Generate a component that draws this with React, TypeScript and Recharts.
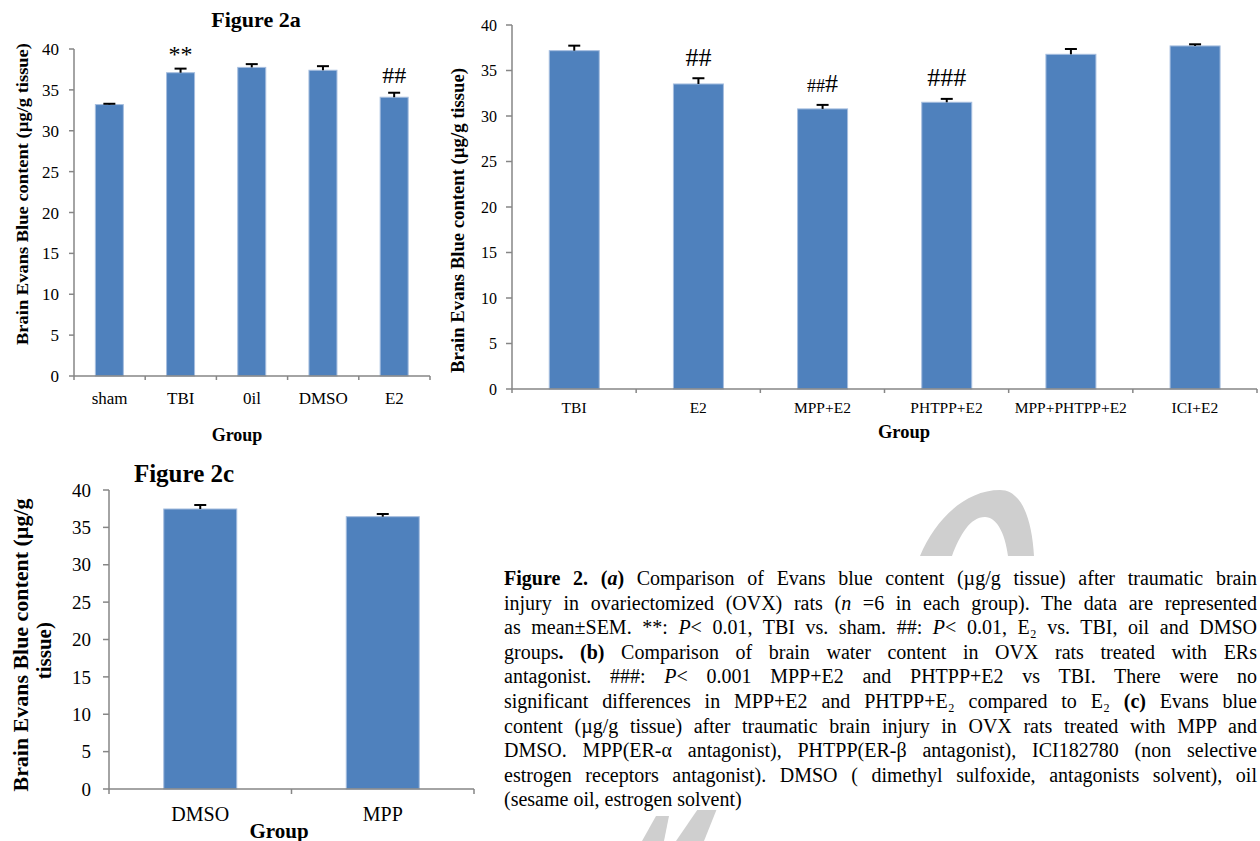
import React, { useLayoutEffect, useRef, useState } from 'react';
import { BarChart, Bar, XAxis, YAxis } from 'recharts';

// ---------- data ----------
const groupsA = ['sham', 'TBI', '0il', 'DMSO', 'E2'];
const meansA = [33.2, 37.1, 37.75, 37.4, 34.1];
const semA = [0.1, 0.5, 0.4, 0.5, 0.55];
const sigA = ['', '**', '', '', '##'];

const groupsB = ['TBI', 'E2', 'MPP+E2', 'PHTPP+E2', 'MPP+PHTPP+E2', 'ICI+E2'];
const meansB = [37.18, 33.52, 30.78, 31.51, 36.78, 37.7];
const semB = [0.55, 0.63, 0.44, 0.37, 0.58, 0.18];
const sigB = ['', '##', '###', '###', '', ''];
const sigSmallB = [0, 0, 2, 0, 0, 0];

const groupsC = ['DMSO', 'MPP'];
const meansC = [37.46, 36.43];
const semC = [0.53, 0.36];

const yTicks = [0, 5, 10, 15, 20, 25, 30, 35, 40];

const dataA = groupsA.map((g, i) => ({ name: g, value: meansA[i], sem: semA[i], sig: sigA[i], small: 0 }));
const dataB = groupsB.map((g, i) => ({ name: g, value: meansB[i], sem: semB[i], sig: sigB[i], small: sigSmallB[i] }));
const dataC = groupsC.map((g, i) => ({ name: g, value: meansC[i], sem: semC[i], sig: '', small: 0 }));

const FONT = '"Liberation Serif", "Times New Roman", serif';
const AXIS = '#868686';
const BLUE = '#4F81BD';

function makeShape(sigFont: number, smallFont: number, gapHash: number, gapStar: number) {
  return (props: any) => {
    const { x, y, width, height, payload } = props;
    if (!payload || !payload.value) return <g />;
    const ppu = height / payload.value;
    const errTop = y - payload.sem * ppu;
    const cx = x + width / 2;
    const sig: string = payload.sig || '';
    const small: number = payload.small || 0;
    const gap = sig.indexOf('*') >= 0 ? gapStar : gapHash;
    return (
      <g>
        <rect x={x} y={y} width={width} height={height} fill={BLUE} stroke="#a6bedf" strokeWidth={1} />
        <line x1={cx} y1={y} x2={cx} y2={errTop} stroke="#000" strokeWidth={2} />
        <line x1={cx - 6} y1={errTop} x2={cx + 6} y2={errTop} stroke="#000" strokeWidth={2} />
        {sig ? (
          <text x={cx} y={errTop - gap} textAnchor="middle" fontFamily={FONT} fontSize={sigFont} fill="#000">
            {small > 0 ? (
              <>
                <tspan fontSize={smallFont}>{sig.slice(0, small)}</tspan>
                <tspan>{sig.slice(small)}</tspan>
              </>
            ) : (
              sig
            )}
          </text>
        ) : null}
      </g>
    );
  };
}

function makeXTick(fontSize: number, dy: number, tickLen: number, n: number, plotW: number) {
  return (props: any) => {
    const { x, y, payload, index } = props;
    const half = plotW / n / 2;
    return (
      <g>
        <line x1={x - half} y1={y} x2={x - half} y2={y + tickLen} stroke={AXIS} strokeWidth={1.5} />
        {index === n - 1 ? (
          <line x1={x + half} y1={y} x2={x + half} y2={y + tickLen} stroke={AXIS} strokeWidth={1.5} />
        ) : null}
        <text x={x} y={y + dy} textAnchor="middle" fontFamily={FONT} fontSize={fontSize} fill="#000">
          {payload.value}
        </text>
      </g>
    );
  };
}

type PanelProps = {
  data: any[];
  left: number;
  top: number;
  width: number;
  height: number;
  margin: { top: number; right: number; bottom: number; left: number };
  yWidth: number;
  yFont: number;
  yTickSize: number;
  yTickMargin: number;
  xFont: number;
  xDy: number;
  xTickLen: number;
  sigFont: number;
  smallFont: number;
  gapHash: number;
  gapStar: number;
};

function Panel(p: PanelProps) {
  const plotW = p.width - p.margin.left - p.margin.right - p.yWidth;
  return (
    <div style={{ position: 'absolute', left: p.left, top: p.top }}>
      <BarChart width={p.width} height={p.height} data={p.data} margin={p.margin} barCategoryGap="30%">
        <XAxis
          dataKey="name"
          axisLine={{ stroke: AXIS, strokeWidth: 1.5 }}
          tickLine={false}
          tickSize={0}
          tickMargin={0}
          height={30}
          interval={0}
          tick={makeXTick(p.xFont, p.xDy, p.xTickLen, p.data.length, plotW)}
        />
        <YAxis
          width={p.yWidth}
          domain={[0, 40]}
          ticks={yTicks}
          interval={0}
          axisLine={{ stroke: AXIS, strokeWidth: 1.5 }}
          tickLine={{ stroke: AXIS, strokeWidth: 1.5 }}
          tickSize={p.yTickSize}
          tickMargin={p.yTickMargin}
          tick={{ fill: '#000', fontSize: p.yFont, fontFamily: FONT }}
        />
        <Bar
          dataKey="value"
          isAnimationActive={false}
          shape={makeShape(p.sigFont, p.smallFont, p.gapHash, p.gapStar)}
        />
      </BarChart>
    </div>
  );
}

const captionLines: React.ReactNode[] = [
  <>
    <tspan fontWeight="bold">Figure 2. (</tspan>
    <tspan fontWeight="bold" fontStyle="italic">a</tspan>
    <tspan fontWeight="bold">)</tspan> Comparison of Evans blue content (µg/g tissue) after traumatic brain
  </>,
  <>
    injury in ovariectomized (OVX) rats (<tspan fontStyle="italic">n</tspan> =6 in each group). The data are represented
  </>,
  <>
    as mean±SEM. **: <tspan fontStyle="italic">P</tspan>{'< 0.01, TBI vs. sham. ##: '}
    <tspan fontStyle="italic">P</tspan>{'< 0.01, E₂ vs. TBI, oil and DMSO'}
  </>,
  <>
    groups<tspan fontWeight="bold">. (b)</tspan> Comparison of brain water content in OVX rats treated with ERs
  </>,
  <>
    antagonist. ###: <tspan fontStyle="italic">P</tspan>{'< 0.001 MPP+E2 and PHTPP+E2 vs TBI. There were no'}
  </>,
  <>
    significant differences in MPP+E2 and PHTPP+E₂ compared to E₂ <tspan fontWeight="bold">(c)</tspan> Evans blue
  </>,
  <>content (µg/g tissue) after traumatic brain injury in OVX rats treated with MPP and</>,
  <>DMSO. MPP(ER-α antagonist), PHTPP(ER-β antagonist), ICI182780 (non selective</>,
  <>estrogen receptors antagonist). DMSO ( dimethyl sulfoxide, antagonists solvent), oil</>,
  <>(sesame oil, estrogen solvent)</>,
];

function JustLine(props: { x: number; y: number; width: number; justify: boolean; children: React.ReactNode }) {
  const ref = useRef<SVGTextElement>(null);
  const [ws, setWs] = useState<number>(0);
  useLayoutEffect(() => {
    if (!props.justify || !ref.current) return;
    const el = ref.current;
    const nat = el.getComputedTextLength();
    const spaces = (el.textContent || '').split(' ').length - 1;
    if (nat < props.width && spaces > 0) setWs((props.width - nat) / spaces);
    else if (nat >= props.width) setWs(-1);
  }, []);
  const extra: any = {};
  if (ws > 0) extra.style = { wordSpacing: `${ws}px` };
  if (ws === -1) {
    extra.textLength = props.width;
    extra.lengthAdjust = 'spacingAndGlyphs';
  }
  return (
    <text ref={ref} x={props.x} y={props.y} fontFamily={FONT} fontSize={20} fill="#000" {...extra}>
      {props.children}
    </text>
  );
}

export default function App() {
  return (
    <div
      style={{ position: 'absolute', left: 0, top: 0, width: 1260, height: 841, background: '#fff', overflow: 'hidden' }}
    >
      {/* Figure 2a */}
      <Panel
        data={dataA}
        left={0}
        top={0}
        width={440}
        height={450}
        margin={{ top: 49, right: 10, bottom: 44, left: 0 }}
        yWidth={74}
        yFont={17}
        yTickSize={5}
        yTickMargin={10}
        xFont={17}
        xDy={28}
        xTickLen={4}
        sigFont={24}
        smallFont={24}
        gapHash={10}
        gapStar={7}
      />
      {/* Figure 2b */}
      <Panel
        data={dataB}
        left={430}
        top={0}
        width={830}
        height={450}
        margin={{ top: 25, right: 3, bottom: 31, left: 0 }}
        yWidth={82}
        yFont={16}
        yTickSize={6}
        yTickMargin={9}
        xFont={15.5}
        xDy={24}
        xTickLen={4}
        sigFont={26}
        smallFont={18}
        gapHash={12.5}
        gapStar={8}
      />
      {/* Figure 2c */}
      <Panel
        data={dataC}
        left={0}
        top={455}
        width={490}
        height={386}
        margin={{ top: 35, right: 16, bottom: 22, left: 0 }}
        yWidth={109}
        yFont={19}
        yTickSize={6}
        yTickMargin={12}
        xFont={20}
        xDy={32}
        xTickLen={5}
        sigFont={24}
        smallFont={24}
        gapHash={10}
        gapStar={7}
      />
      <svg width={1260} height={841} style={{ position: 'absolute', left: 0, top: 0, pointerEvents: 'none' }}>
        {/* watermark */}
        <path
          d="M 920 556 C 935 520, 965 490, 1000 490 C 1022 490, 1032 520, 1034 556 L 1008 556 C 1005 532, 996 517, 985 517 C 970 517, 960 535, 952 556 Z"
          fill="#cfcfcf"
        />
        <path d="M 676 841 L 700 806 L 718 806 L 704 841 Z" fill="#cfcfcf" />
        <path d="M 642 841 L 656 816 L 669 816 L 664 841 Z" fill="#cfcfcf" />
        <rect x={495} y={556} width={765} height={254} fill="#fff" />

        {/* caption */}
        {captionLines.map((ln, i) => (
          <JustLine key={i} x={504} y={585 + i * 24.6} width={753} justify={i < 9}>
            {ln}
          </JustLine>
        ))}

        {/* Figure 2a labels */}
        <text x={256} y={27} textAnchor="middle" fontFamily={FONT} fontWeight="bold" fontSize={22}>
          Figure 2a
        </text>
        <text
          x={27.5}
          y={194}
          transform="rotate(-90 27.5 194)"
          textAnchor="middle"
          fontFamily={FONT}
          fontWeight="bold"
          fontSize={17.5}
          textLength={302}
          lengthAdjust="spacingAndGlyphs"
        >
          Brain Evans Blue content (µg/g tissue)
        </text>
        <text x={237} y={440.5} textAnchor="middle" fontFamily={FONT} fontWeight="bold" fontSize={18}>
          Group
        </text>

        {/* Figure 2b labels */}
        <text
          x={464}
          y={220.5}
          transform="rotate(-90 464 220.5)"
          textAnchor="middle"
          fontFamily={FONT}
          fontWeight="bold"
          fontSize={18.5}
          textLength={305}
          lengthAdjust="spacingAndGlyphs"
        >
          Brain Evans Blue content (µg/g tissue)
        </text>
        <text x={904} y={438} textAnchor="middle" fontFamily={FONT} fontWeight="bold" fontSize={18.5}>
          Group
        </text>

        {/* Figure 2c labels */}
        <text x={184} y={481.7} textAnchor="middle" fontFamily={FONT} fontWeight="bold" fontSize={25}>
          Figure 2c
        </text>
        <text
          x={27.5}
          y={645}
          transform="rotate(-90 27.5 645)"
          textAnchor="middle"
          fontFamily={FONT}
          fontWeight="bold"
          fontSize={21}
          textLength={293}
          lengthAdjust="spacingAndGlyphs"
        >
          Brain Evans Blue content (µg/g
        </text>
        <text
          x={51.5}
          y={650.7}
          transform="rotate(-90 51.5 650.7)"
          textAnchor="middle"
          fontFamily={FONT}
          fontWeight="bold"
          fontSize={21}
        >
          tissue)
        </text>
        <text x={279} y={837.5} textAnchor="middle" fontFamily={FONT} fontWeight="bold" fontSize={21}>
          Group
        </text>
      </svg>
    </div>
  );
}
